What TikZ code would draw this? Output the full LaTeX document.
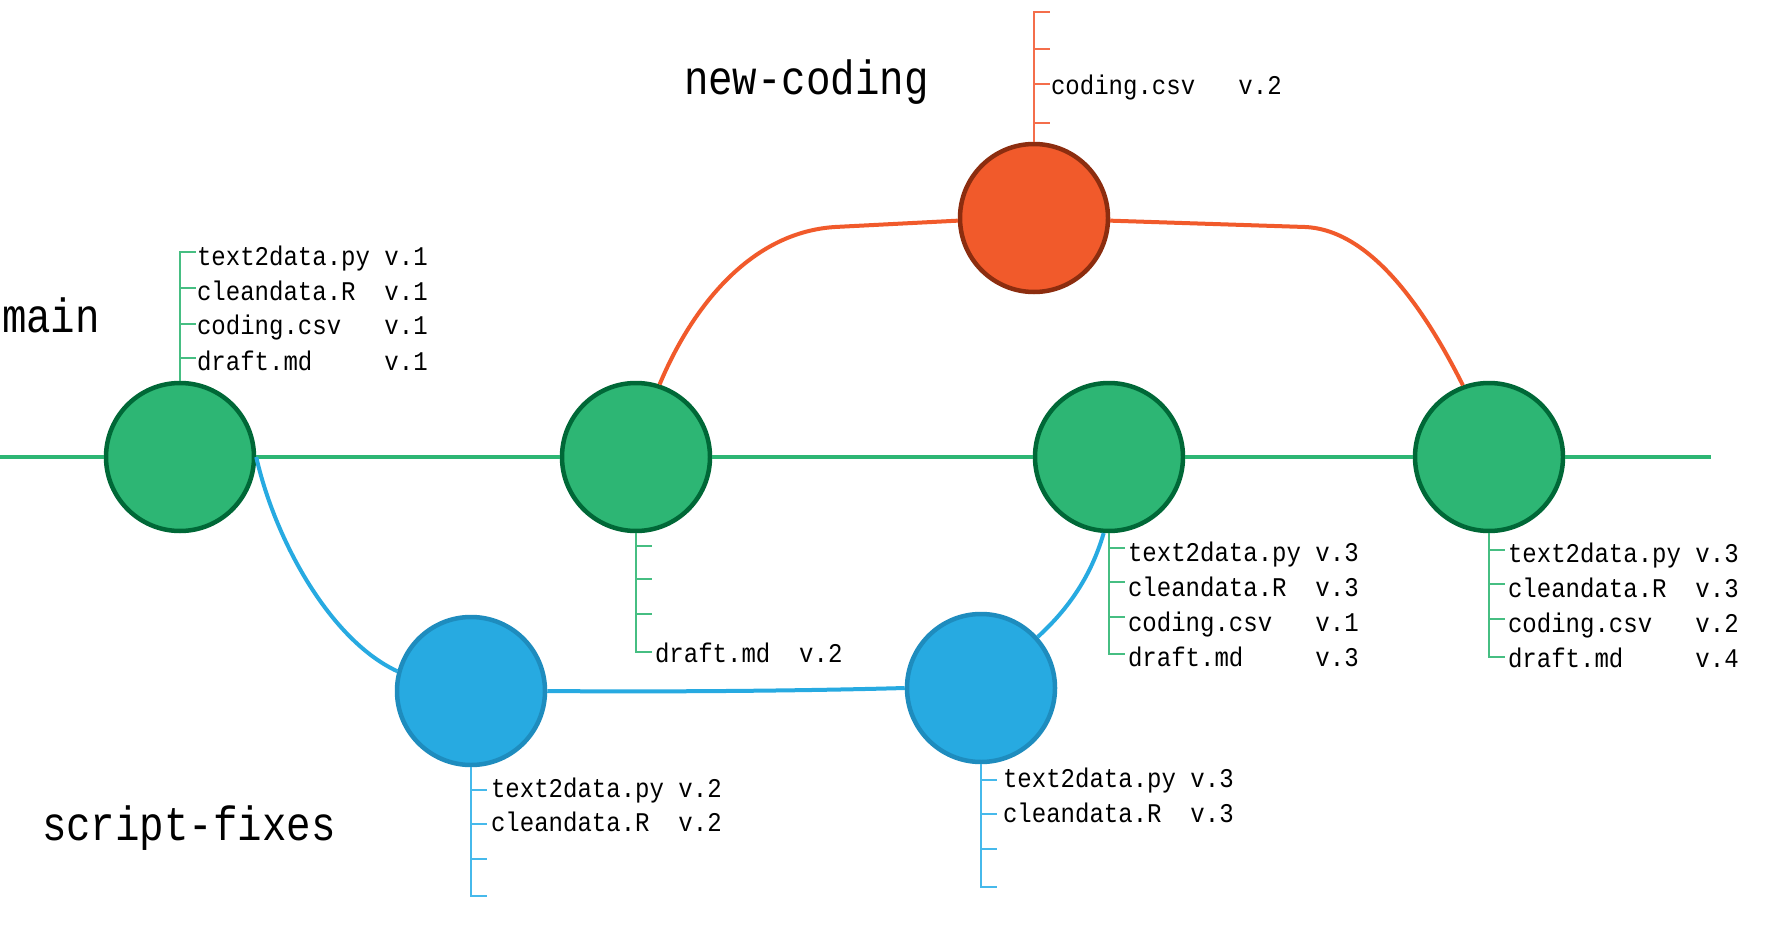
\documentclass[tikz,border=0pt]{standalone}
\usepackage{fontspec}
\newfontfamily\smallmono[FakeStretch=0.89]{Liberation Mono}
\newfontfamily\bigmono[FakeStretch=0.85]{Liberation Mono}
\definecolor{gfill}{RGB}{45,182,116}
\definecolor{gdark}{RGB}{0,104,55}
\definecolor{ofill}{RGB}{241,90,43}
\definecolor{odark}{RGB}{140,45,15}
\definecolor{bfill}{RGB}{39,170,225}
\definecolor{bdark}{RGB}{30,140,190}
\definecolor{gbr}{RGB}{70,190,130}
\definecolor{obr}{RGB}{244,110,75}
\definecolor{bbr}{RGB}{70,185,235}
\begin{document}
\begin{tikzpicture}[x=1pt,y=-1pt,
  commit/.style={circle, minimum size=148pt, inner sep=0pt, line width=4.5pt},
  gcommit/.style={commit, fill=gfill, draw=gdark},
  ocommit/.style={commit, fill=ofill, draw=odark},
  bcommit/.style={commit, fill=bfill, draw=bdark},
  gline/.style={draw=gfill, line width=4pt},
  oline/.style={draw=ofill, line width=4pt},
  bline/.style={draw=bfill, line width=4pt},
  gbrk/.style={draw=gbr, line width=1.6pt},
  obrk/.style={draw=obr, line width=1.6pt},
  bbrk/.style={draw=bbr, line width=1.6pt},
  file/.style={anchor=base west, inner sep=0pt, outer sep=0pt, font=\smallmono\fontsize{27}{35}\selectfont},
  branch/.style={anchor=base west, inner sep=0pt, outer sep=0pt, font=\bigmono\fontsize{48}{56}\selectfont}]
\fill[white] (0,0) rectangle (1769,936);
\useasboundingbox (0,0) rectangle (1769,936);

% commits
\node[gcommit] (G1) at (180,457) {};
\node[gcommit] (G2) at (636,457) {};
\node[gcommit] (G3) at (1109,457) {};
\node[gcommit] (G4) at (1489,457) {};
\node[ocommit] (O) at (1034,218) {};
\node[bcommit] (B1) at (471,691) {};
\node[bcommit] (B2) at (981,688) {};

% main line
\coordinate (mL) at (0,457);
\coordinate (mR) at (1711,457);
\draw[gline] (mL) -- (G1.west);
\draw[gline] (G1.east) -- (G2.west);
\draw[gline] (G2.east) -- (G3.west);
\draw[gline] (G3.east) -- (G4.west);
\draw[gline] (G4.east) -- (mR);

% new-coding branch
\coordinate (oL) at (835,227);
\coordinate (oR) at (1305,227);
\draw[oline] (G2.72) .. controls (695,300) and (755,232) .. (oL) -- (O.182);
\draw[oline] (O.-2) -- (oR) .. controls (1375,230) and (1430,320) .. (G4.110);

% script-fixes branch
\draw[bline] (G1.east) .. controls (275,540) and (330,640) .. (B1.165);
\draw[bline] (B1.east) .. controls (650,692) and (800,691) .. (B2.west);
\draw[bline] (B2.42) .. controls (1065,612) and (1090,580) .. (G3.-94);

% branch labels
\node[branch] (lmain) at (2,332) {main};
\node[branch] (lnew) at (684,95) {new-coding};
\node[branch] (lfix) at (42,840) {script-fixes};

% G1 files
\draw[gbrk] (G1.north) -- (180,252) -- (196,252);
\draw[gbrk] (180,288) -- (196,288);
\draw[gbrk] (180,324) -- (196,324);
\draw[gbrk] (180,358) -- (196,358);
\node[file] (f1a) at (197,265) {text2data.py~v.1};
\node[file] (f1b) at (197,300) {cleandata.R~~v.1};
\node[file] (f1c) at (197,334) {coding.csv~~~v.1};
\node[file] (f1d) at (197,370) {draft.md~~~~~v.1};

% G2 files
\draw[gbrk] (G2.south) -- (636,652) -- (652,652);
\draw[gbrk] (636,546) -- (652,546);
\draw[gbrk] (636,579) -- (652,579);
\draw[gbrk] (636,614) -- (652,614);
\node[file] (f2d) at (655,662) {draft.md~~v.2};

% G3 files
\draw[gbrk] (G3.south) -- (1109,654) -- (1125,654);
\draw[gbrk] (1109,548) -- (1125,548);
\draw[gbrk] (1109,582) -- (1125,582);
\draw[gbrk] (1109,617) -- (1125,617);
\node[file] (f3a) at (1128,561) {text2data.py~v.3};
\node[file] (f3b) at (1128,596) {cleandata.R~~v.3};
\node[file] (f3c) at (1128,631) {coding.csv~~~v.1};
\node[file] (f3d) at (1128,666) {draft.md~~~~~v.3};

% G4 files
\draw[gbrk] (G4.south) -- (1489,657) -- (1505,657);
\draw[gbrk] (1489,550) -- (1505,550);
\draw[gbrk] (1489,584) -- (1505,584);
\draw[gbrk] (1489,619) -- (1505,619);
\node[file] (f4a) at (1508,562) {text2data.py~v.3};
\node[file] (f4b) at (1508,597) {cleandata.R~~v.3};
\node[file] (f4c) at (1508,632) {coding.csv~~~v.2};
\node[file] (f4d) at (1508,667) {draft.md~~~~~v.4};

% O files
\draw[obrk] (O.north) -- (1034,12) -- (1050,12);
\draw[obrk] (1034,49) -- (1050,49);
\draw[obrk] (1034,84) -- (1050,84);
\draw[obrk] (1034,123) -- (1050,123);
\node[file] (foc) at (1051,95) {coding.csv~~~v.2};

% B1 files
\draw[bbrk] (B1.south) -- (471,896) -- (487,896);
\draw[bbrk] (471,790) -- (487,790);
\draw[bbrk] (471,824) -- (487,824);
\draw[bbrk] (471,859) -- (487,859);
\node[file] (fb1a) at (491,797) {text2data.py~v.2};
\node[file] (fb1b) at (491,831) {cleandata.R~~v.2};

% B2 files
\draw[bbrk] (B2.south) -- (981,887) -- (997,887);
\draw[bbrk] (981,780) -- (997,780);
\draw[bbrk] (981,814) -- (997,814);
\draw[bbrk] (981,849) -- (997,849);
\node[file] (fb2a) at (1003,787) {text2data.py~v.3};
\node[file] (fb2b) at (1003,822) {cleandata.R~~v.3};
\end{tikzpicture}
\end{document}
